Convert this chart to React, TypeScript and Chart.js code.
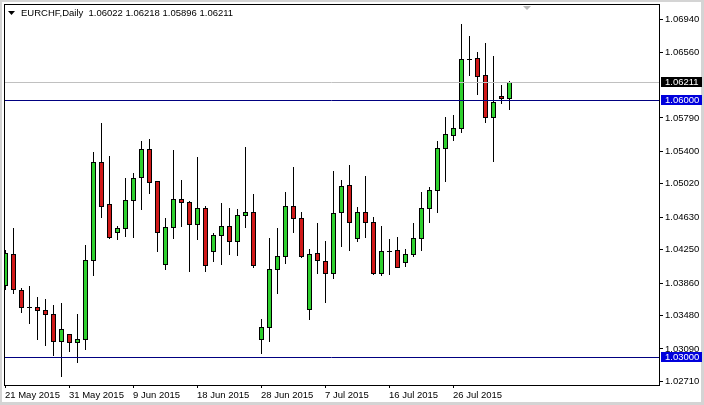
import { useEffect, useRef } from 'react';
import { Chart, registerables } from 'chart.js';

Chart.register(...registerables);

// ---- Data (EURCHF Daily) ----
const opens = [
  1.03838, 1.042, 1.03776, 1.03577, 1.03577, 1.03546, 1.03495, 1.0318, 1.03261, 1.03168,
  1.03203, 1.04126, 1.05272, 1.04781, 1.04457, 1.045, 1.04828, 1.05097, 1.05424, 1.05053,
  1.0408, 1.04512, 1.04839, 1.04804, 1.04547, 1.04734, 1.04232, 1.04419, 1.04524, 1.04349,
  1.04659, 1.04687, 1.03203, 1.03343, 1.04021, 1.04173, 1.04765, 1.04617, 1.03554, 1.04215,
  1.04122, 1.03974, 1.04687, 1.05003, 1.04391, 1.04687, 1.04571, 1.03981, 1.04239, 1.04243,
  1.04103, 1.04204, 1.04384, 1.04734, 1.04945, 1.05435, 1.05587, 1.05669, 1.06483, 1.06487,
  1.06289, 1.05798, 1.06047, 1.06022,
];
const highs = [
  1.04247, 1.045, 1.03799, 1.03826, 1.03694, 1.03671, 1.03604, 1.03631, 1.03265, 1.03499,
  1.04305, 1.05396, 1.05735, 1.05349, 1.04531, 1.05092, 1.05143, 1.05521, 1.05544, 1.05058,
  1.04617, 1.05416, 1.05065, 1.0482, 1.0533, 1.04765, 1.04442, 1.04793, 1.04734, 1.04722,
  1.05447, 1.04898, 1.03437, 1.04384, 1.045, 1.04921, 1.0522, 1.04694, 1.04255, 1.04559,
  1.04352, 1.0517, 1.05065, 1.0524, 1.04746, 1.05112, 1.04629, 1.04531, 1.04375, 1.04399,
  1.04259, 1.04559, 1.04925, 1.0498, 1.05521, 1.05805, 1.05825, 1.06885, 1.06748, 1.06558,
  1.06663, 1.06514, 1.06175, 1.06218,
];
const lows = [
  1.03791, 1.03741, 1.03526, 1.0339, 1.03203, 1.03136, 1.0302, 1.02778, 1.0307, 1.02941,
  1.03086, 1.03955, 1.04636, 1.0439, 1.04379, 1.0441, 1.04402, 1.04722, 1.04917, 1.04239,
  1.04021, 1.04384, 1.04531, 1.04005, 1.04372, 1.04005, 1.04122, 1.04087, 1.04204, 1.04192,
  1.04519, 1.04052, 1.03039, 1.03187, 1.03741, 1.04098, 1.04461, 1.04165, 1.03437, 1.03981,
  1.03643, 1.03916, 1.04294, 1.04243, 1.04352, 1.04402, 1.0397, 1.03955, 1.03963, 1.04045,
  1.04063, 1.04173, 1.0425, 1.04571, 1.04687, 1.05057, 1.05536, 1.05622, 1.06292, 1.0607,
  1.05746, 1.05291, 1.05961, 1.05896,
];
const closes = [
  1.04212, 1.03791, 1.03577, 1.03577, 1.03542, 1.03495, 1.0318, 1.0332, 1.03168, 1.03203,
  1.04126, 1.05272, 1.04765, 1.04395, 1.04507, 1.04831, 1.05085, 1.05424, 1.05038, 1.04454,
  1.04512, 1.04839, 1.04804, 1.04547, 1.04734, 1.04068, 1.04419, 1.04524, 1.04349, 1.04659,
  1.04687, 1.04075, 1.0335, 1.04028, 1.04173, 1.04765, 1.04617, 1.04173, 1.04204, 1.04126,
  1.03974, 1.04683, 1.04998, 1.04578, 1.04694, 1.04571, 1.03981, 1.04232, 1.04239, 1.04052,
  1.04197, 1.04384, 1.04734, 1.04948, 1.05435, 1.05599, 1.05669, 1.06476, 1.06483, 1.06284,
  1.05798, 1.05973, 1.0602, 1.06211,
];

const xTickIndex = [0, 8, 16, 24, 32, 40, 48, 56];
const xTickLabels = [
  '21 May 2015', '31 May 2015', '9 Jun 2015', '18 Jun 2015',
  '28 Jun 2015', '7 Jul 2015', '16 Jul 2015', '26 Jul 2015',
];
const yTickValues = [
  1.0694, 1.0656, 1.0579, 1.054, 1.0502, 1.0463, 1.0425, 1.0386, 1.0348, 1.0309, 1.0271,
];
const levelLines = [1.06, 1.03];
const bidPrice = 1.06211;
const symbolTitle = 'EURCHF,Daily';
const yRange = [1.02668, 1.07111];
const xRange = [-0.125, 81.75];
const shiftMarkerIndex = 65.2;

// ---- Styles ----
const FONT_FAMILY = '"Liberation Sans", Arial, sans-serif';
const FONT_SIZE = 9.5;
const FONT = `${FONT_SIZE}px ${FONT_FAMILY}`;
const BULL = '#2ed02e';
const BEAR = '#d01818';
const LEVEL = '#000080';
const LEVEL_BOX = '#0000dc';
const BID_LINE = '#c0c0c0';
const FRAME = '#d4d4d4';

const mt4Plugin = {
  id: 'mt4',
  afterDatasetsDraw(chart: any) {
    const { ctx, chartArea: a, scales } = chart;
    const x = scales.x;
    const y = scales.y;
    ctx.save();
    ctx.beginPath();
    ctx.rect(a.left, a.top, a.right - a.left, a.bottom - a.top);
    ctx.clip();
    ctx.lineWidth = 1;
    ctx.strokeStyle = '#000';
    for (let i = 0; i < closes.length; i++) {
      const cx = Math.round(x.getPixelForValue(i));
      const yh = Math.round(y.getPixelForValue(highs[i]));
      const yl = Math.round(y.getPixelForValue(lows[i]));
      const yo = Math.round(y.getPixelForValue(opens[i]));
      const yc = Math.round(y.getPixelForValue(closes[i]));
      ctx.beginPath();
      ctx.moveTo(cx + 0.5, yh);
      ctx.lineTo(cx + 0.5, yl + 1);
      ctx.stroke();
      const top = Math.min(yo, yc);
      const bot = Math.max(yo, yc);
      if (bot - top < 1) {
        ctx.beginPath();
        ctx.moveTo(cx - 2, top + 0.5);
        ctx.lineTo(cx + 3, top + 0.5);
        ctx.stroke();
      } else {
        ctx.fillStyle = closes[i] >= opens[i] ? BULL : BEAR;
        ctx.fillRect(cx - 2, top, 5, bot - top + 1);
        ctx.strokeRect(cx - 1.5, top + 0.5, 4, bot - top);
      }
    }
    // bid line
    const yb = Math.round(y.getPixelForValue(bidPrice)) + 0.5;
    ctx.strokeStyle = BID_LINE;
    ctx.beginPath();
    ctx.moveTo(a.left, yb);
    ctx.lineTo(a.right, yb);
    ctx.stroke();
    // horizontal levels
    ctx.strokeStyle = LEVEL;
    for (const lv of levelLines) {
      const yy = Math.round(y.getPixelForValue(lv)) + 0.5;
      ctx.beginPath();
      ctx.moveTo(a.left, yy);
      ctx.lineTo(a.right, yy);
      ctx.stroke();
    }
    ctx.restore();
  },
  afterDraw(chart: any) {
    const { ctx, chartArea: a, scales, width, height } = chart;
    const x = scales.x;
    const y = scales.y;
    ctx.save();
    // outer frame
    ctx.fillStyle = FRAME;
    ctx.fillRect(0, 0, width, 2);
    ctx.fillRect(0, 0, 2, height);
    ctx.fillRect(width - 3, 0, 3, height);
    ctx.fillRect(0, height - 3, width, 3);
    // plot border
    ctx.strokeStyle = '#000';
    ctx.lineWidth = 1;
    ctx.strokeRect(a.left + 0.5, a.top - 0.5, a.right - a.left, a.bottom - a.top + 1);
    // price boxes
    ctx.font = FONT;
    ctx.textBaseline = 'middle';
    ctx.textAlign = 'left';
    const box = (price: number, bg: string) => {
      const yy = Math.round(y.getPixelForValue(price));
      ctx.fillStyle = bg;
      ctx.fillRect(a.right + 2, yy - 5, 41, 10);
      ctx.fillStyle = '#fff';
      ctx.fillText(price.toFixed(5), a.right + 6, yy + 0.5);
    };
    box(bidPrice, '#000');
    for (const lv of levelLines) box(lv, LEVEL_BOX);
    // title
    const last = closes.length - 1;
    ctx.fillStyle = '#000';
    ctx.beginPath();
    ctx.moveTo(8, 11);
    ctx.lineTo(15, 11);
    ctx.lineTo(11.5, 15);
    ctx.closePath();
    ctx.fill();
    const title = `${symbolTitle}  ${opens[last].toFixed(5)} ${highs[last].toFixed(5)} ${lows[last].toFixed(5)} ${closes[last].toFixed(5)}`;
    ctx.fillText(title, 21, 13);
    // chart shift marker
    const sx = Math.round(x.getPixelForValue(shiftMarkerIndex));
    ctx.fillStyle = '#b8b8b8';
    ctx.beginPath();
    ctx.moveTo(sx - 4, a.top + 1);
    ctx.lineTo(sx + 4, a.top + 1);
    ctx.lineTo(sx, a.top + 5);
    ctx.closePath();
    ctx.fill();
    ctx.restore();
  },
};

export default function App() {
  const ref = useRef<HTMLCanvasElement | null>(null);
  useEffect(() => {
    if (!ref.current) return;
    const chart = new Chart(ref.current, {
      type: 'line',
      data: { datasets: [] },
      options: {
        responsive: false,
        animation: false,
        devicePixelRatio: 1,
        layout: { padding: { left: 4, top: 5, right: 0, bottom: 0 } },
        plugins: {
          legend: { display: false },
          tooltip: { enabled: false },
        },
        scales: {
          x: {
            type: 'linear',
            position: 'bottom',
            bounds: 'data',
            min: xRange[0],
            max: xRange[1],
            afterBuildTicks: (s: any) => {
              s.ticks = xTickIndex.map((v) => ({ value: v }));
            },
            afterFit: (s: any) => {
              s.height = 20;
              s.paddingLeft = 0;
              s.paddingRight = 0;
              s.paddingTop = 0;
              s.paddingBottom = 0;
            },
            ticks: {
              autoSkip: false,
              maxRotation: 0,
              minRotation: 0,
              align: 'start',
              padding: 2,
              color: '#000',
              font: { family: FONT_FAMILY, size: FONT_SIZE },
              callback: (_v: any, i: number) => xTickLabels[i],
            },
            grid: { drawOnChartArea: false, tickLength: 3, color: '#000' },
            border: { display: false },
          },
          y: {
            type: 'linear',
            position: 'right',
            bounds: 'data',
            min: yRange[0],
            max: yRange[1],
            afterBuildTicks: (s: any) => {
              s.ticks = yTickValues.map((v) => ({ value: v }));
            },
            afterFit: (s: any) => {
              s.width = 45;
              s.paddingLeft = 0;
              s.paddingRight = 0;
              s.paddingTop = 0;
              s.paddingBottom = 0;
            },
            ticks: {
              autoSkip: false,
              padding: 2,
              color: '#000',
              font: { family: FONT_FAMILY, size: FONT_SIZE },
              callback: (v: any) => Number(v).toFixed(5),
            },
            grid: { drawOnChartArea: false, tickLength: 4, color: '#000' },
            border: { display: false },
          },
        },
      } as any,
      plugins: [mt4Plugin],
    });
    return () => chart.destroy();
  }, []);
  return (
    <div style={{ position: 'fixed', left: 0, top: 0, width: 704, height: 405, background: '#fff' }}>
      <canvas ref={ref} width={704} height={405} style={{ display: 'block' }} />
    </div>
  );
}
